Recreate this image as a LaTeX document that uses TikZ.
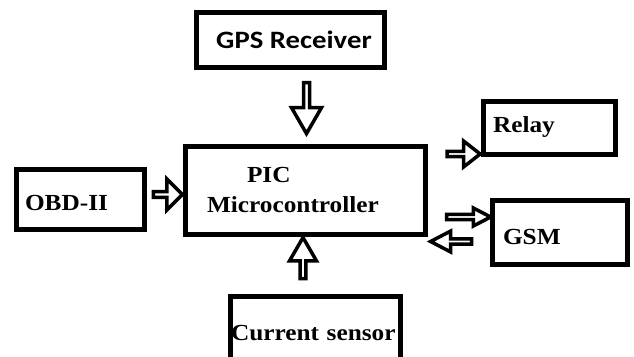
\documentclass[tikz,border=0pt]{standalone}
\usepackage{fontspec}
\usepackage{tikz}
\usetikzlibrary{positioning, shapes.arrows}
\newfontfamily\serifwide{Liberation Serif}[FakeStretch=1.1]
\newfontfamily\sanswide{Carlito}[FakeStretch=1.15]
\tikzset{block/.style={
        draw,
        rectangle,
        line width=5pt,
        inner sep=0pt,
        align=left,
        font=\serifwide\bfseries\fontsize{23}{30}\selectfont
}}
\tikzset{fatarrow/.style={
        draw,
        single arrow,
        line width=3.5pt,
        inner sep=0pt,
        fill=white
}}

\begin{document}
\begin{tikzpicture}[x=1pt,y=-1pt]
\useasboundingbox (0,0) rectangle (634,356);
\node[block, minimum width=188pt, minimum height=55pt, align=center, font=\sanswide\bfseries\fontsize{25}{28}\selectfont] (gps) at (290,39.5) {\hspace*{8pt}GPS Receiver};
\node[block, minimum height=88pt, text width=196pt, inner xsep=22pt] (pic) at (305,190) {\hspace*{40pt}PIC\\Microcontroller};
\node[block, minimum height=60pt, text width=110pt, inner xsep=9pt, text height=23pt] (obd) at (80,199) {OBD-II};
\node[block, minimum height=53pt, text width=112pt, inner xsep=10pt] (relay) at (549,127.5) {Relay};
\node[block, minimum height=64pt, text width=113pt, inner xsep=11pt, text height=25pt] (gsm) at (559.5,232) {GSM};
\node[block, minimum height=74pt, text width=168pt, inner xsep=1pt] (sensor) at (315,333) {Current sensor};

\node[fatarrow, rotate=-90, minimum height=51pt, minimum width=30pt, single arrow head extend=7pt, single arrow tip angle=60] (gpsin) at (306.5,105.5) {};
\node[fatarrow, rotate=90, minimum height=41pt, minimum width=27pt, single arrow head extend=6.5pt, single arrow tip angle=60] (sensorin) at (303,260.5) {};
\node[fatarrow, minimum height=29pt, minimum width=31pt, single arrow head extend=8pt, single arrow tip angle=90] (obdin) at (166.5,194.5) {};
\node[fatarrow, minimum height=33pt, minimum width=26pt, single arrow head extend=7pt, single arrow tip angle=76] (relayout) at (462,154) {};
\node[fatarrow, minimum height=44pt, minimum width=18pt, single arrow head extend=4pt, single arrow tip angle=55] (gsmout) at (466,217) {};
\node[fatarrow, rotate=180, minimum height=41pt, minimum width=21pt, single arrow head extend=5.5pt, single arrow tip angle=55] (gsmin) at (453.5,241.5) {};
\end{tikzpicture}
\end{document}
